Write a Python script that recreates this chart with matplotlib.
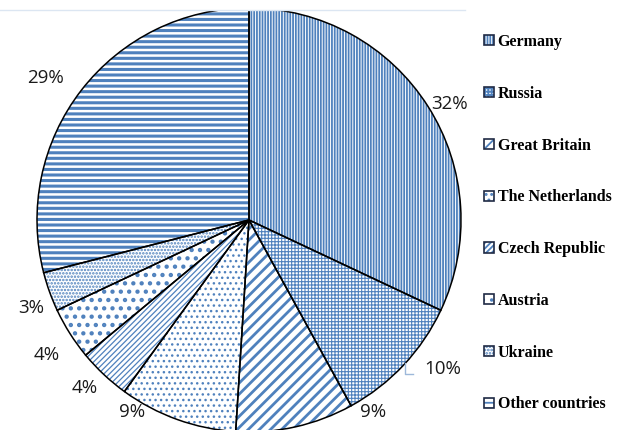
import matplotlib
matplotlib.use("Agg")
import matplotlib.pyplot as plt
from matplotlib.patches import Patch
from matplotlib.legend_handler import HandlerTuple

countries = ["Germany", "Russia", "Great Britain", "The Netherlands",
             "Czech Republic", "Austria", "Ukraine", "Other countries"]
shares = [32, 10, 9, 9, 4, 4, 3, 29]
hatches = ["||||||", "+++++", "///", "...", "//////", "..", ".....", "---"]
hatch_widths = [1.3, 0.8, 2.0, 1.0, 0.9, 1.9, 1.2, 2.2]

# data-label anchor points (in pie-radius units)
label_xy = [(0.948, 0.547), (0.915, -0.703), (0.585, -0.906), (-0.552, -0.906),
            (-0.774, -0.792), (-0.953, -0.637), (-1.028, -0.415), (-0.962, 0.670)]

BLUE = "#4F81BD"
plt.rcParams["hatch.linewidth"] = 1.3

W, H = 636, 430
R = 212.0          # pie radius in pixels
cx, cy = 249.0, 220.0
top = 10.0         # plot area top edge

fig = plt.figure(figsize=(W / 100, H / 100), dpi=100)
ax = fig.add_axes([0, 0, 1, (H - top) / H])

# hatched fills (hatch takes the edge colour), then black outlines on top
fills, _ = ax.pie(shares, colors=["white"] * len(shares), hatch=hatches,
                  startangle=90, counterclock=False, radius=1.0,
                  wedgeprops=dict(edgecolor=BLUE, linewidth=0))
outlines, _ = ax.pie(shares, startangle=90, counterclock=False, radius=1.0,
                     wedgeprops=dict(fill=False, edgecolor="black", linewidth=1.1))
for w, hw in zip(fills, hatch_widths):
    if hasattr(w, "set_hatch_linewidth"):
        w.set_hatch_linewidth(hw)
for w in list(fills) + list(outlines):
    w.set_clip_on(True)

ax.set_aspect("auto")
ax.set_xlim(-cx / R, (W - cx) / R)
ax.set_ylim(-(H - cy) / R, (cy - top) / R)
ax.axis("off")

for v, (x, y) in zip(shares, label_xy):
    ax.text(x, y, f"{v}%", ha="center", va="center", fontsize=13.5,
            family="Open Sans", color="#1a1a1a")

# leader line for the Russia label
ax.plot([0.736, 0.736, 0.772], [-0.676, -0.727, -0.727], color="#9DB8DA", lw=1.0)

# faint plot-area top border
ax.plot([-cx / R, 216 / R], [(cy - top) / R - 0.002] * 2, color="#DCE6F2", lw=1.0,
        clip_on=False)

handles = []
for h, hw in zip(hatches, hatch_widths):
    p = Patch(facecolor="white", edgecolor=BLUE, hatch=h, linewidth=0)
    if hasattr(p, "set_hatch_linewidth"):
        p.set_hatch_linewidth(min(hw, 1.2))
    handles.append((p, Patch(fill=False, edgecolor="#1F2A44", linewidth=1.2)))

leg = fig.legend(handles, countries, loc="upper left",
                 bbox_to_anchor=(476 / W, 1 - 26 / H), frameon=False,
                 prop=dict(family="Liberation Serif", weight="bold", size=11.5),
                 handler_map={tuple: HandlerTuple(ndivide=1, pad=0)},
                 handlelength=0.6, handleheight=0.6, handletextpad=0.25,
                 labelspacing=2.24, borderpad=0)

fig.savefig("out.png", dpi=100)
